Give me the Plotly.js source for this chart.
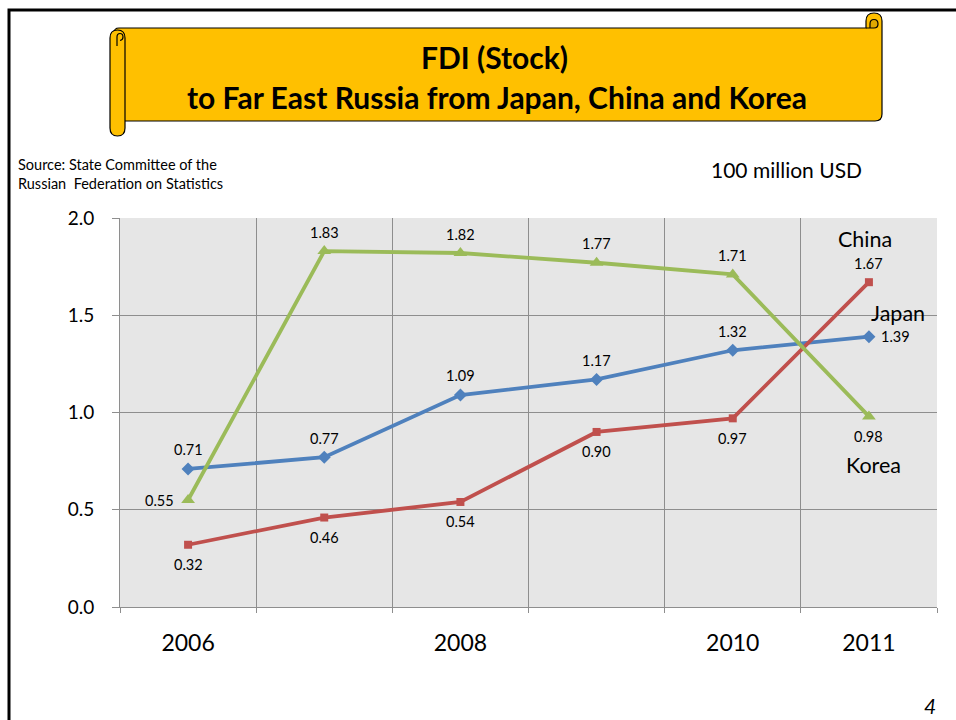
<!DOCTYPE html>
<html>
<head>
<meta charset="utf-8">
<script src="https://cdn.plot.ly/plotly-3.0.1.min.js"></script>
<style>html,body{margin:0;padding:0;background:#fff;}#chart{width:956px;height:720px;}</style>
</head>
<body>
<div id="chart"></div>
<script>
// ---- data ----
const years = ["2006", "2007", "2008", "2009", "2010", "2011"];
const tickLabels = ["2006", "", "2008", "", "2010", "2011"];
const seriesNames = ["Japan", "China", "Korea"];
const japan = [0.71, 0.77, 1.09, 1.17, 1.32, 1.39];
const china = [0.32, 0.46, 0.54, 0.90, 0.97, 1.67];
const korea = [0.55, 1.83, 1.82, 1.77, 1.71, 0.98];
const titleLines = ["FDI (Stock)", "to Far East Russia from Japan, China and Korea"];
const sourceText = "Source: State Committee of the<br>Russian  Federation on Statistics";
const unitText = "100 million USD";
const pageNumber = "4";

// ---- geometry helpers (pixel -> paper) ----
const PL = 120, PR = 937, PT = 218, PB = 607;
const fx = px => (px - PL) / (PR - PL);
const fy = py => (PB - py) / (PB - PT);
const pth = s => s.replace(/(-?[\d.]+),(-?[\d.]+)/g, (m, a, b) => fx(+a) + "," + fy(+b));

const FONT = "Lato, 'Open Sans', 'Noto Sans', sans-serif";
const xIdx = years.map((_, i) => i);

function series(name, y, color, symbol, size) {
  return {
    type: "scatter", mode: "lines+markers", name: name,
    x: xIdx, y: y,
    line: {color: color, width: 3.8},
    marker: {color: color, symbol: symbol, size: size},
    cliponaxis: false, hoverinfo: "skip"
  };
}

const traces = [
  series(seriesNames[0], japan, "#4F81BD", "diamond", 10),
  series(seriesNames[1], china, "#C0504D", "square", 8),
  series(seriesNames[2], korea, "#9BBB59", "triangle-up", 12)
];

// data label placement styles (per point): "t" above, "b" below, "r" right, "l" left
const japanPos = ["t", "t", "t", "t", "t", "r"];
const chinaPos = ["b", "b", "b", "b", "b", "t"];
const koreaPos = ["l", "t", "t", "t", "t", "b"];

function labelAnns(y, pos) {
  return y.map((v, i) => {
    const p = pos[i];
    const a = {xref: "x", yref: "y", x: xIdx[i], y: v, text: v.toFixed(2), showarrow: false,
               font: {family: FONT, size: 14.5, color: "#000"}, xanchor: "center", yanchor: "middle"};
    if (p === "t") a.yshift = 19;
    if (p === "b") a.yshift = -20;
    if (p === "r") { a.xanchor = "left"; a.xshift = 10; }
    if (p === "l") { a.xanchor = "right"; a.xshift = -12; }
    return a;
  });
}

const yellow = "#FFC000";
const shapes = [
  // slide border
  {type: "path", xref: "paper", yref: "paper", path: pth("M 9,722 L 9,10 L 958,10"),
   line: {color: "#000", width: 3}},
  // banner body with right roll
  {type: "path", xref: "paper", yref: "paper", fillcolor: yellow, line: {color: "#000", width: 1.2},
   path: pth("M 114,33 Q 114,28 119,28 L 866,28 L 866,21 Q 866,13 874,13 Q 882,13 882,21 L 882,114 Q 882,121 875,121 L 118,121 Z")},
  // right roll curl
  {type: "path", xref: "paper", yref: "paper", fillcolor: "#E0A800", line: {color: "#000", width: 1.2},
   path: pth("M 866,28 L 874,28 Q 878,28 878,24 Q 878,19.5 874,19.5 Q 870,19.5 870,24 L 870,28")},
  // left roll
  {type: "path", xref: "paper", yref: "paper", fillcolor: yellow, line: {color: "#000", width: 1.2},
   path: pth("M 110,38 Q 110,30 117.5,30 Q 125,30 125,38 L 125,128 Q 125,136 117.5,136 Q 110,136 110,128 Z")},
  // left roll curl
  {type: "path", xref: "paper", yref: "paper", line: {color: "#000", width: 1.2},
   path: pth("M 117,46 L 117,37 Q 117,33.5 120,33.5 Q 123,33.5 123,37 Q 123,40 120,40.5")}
];

const annotations = [
  {xref: "paper", yref: "paper", x: fx(494), y: fy(57), text: "<b>" + titleLines[0] + "</b>", showarrow: false,
   xanchor: "center", yanchor: "middle", font: {family: FONT, size: 30, color: "#000"}},
  {xref: "paper", yref: "paper", x: fx(497), y: fy(97), text: "<b>" + titleLines[1] + "</b>", showarrow: false,
   xanchor: "center", yanchor: "middle", font: {family: FONT, size: 30, color: "#000"}},
  {xref: "paper", yref: "paper", x: fx(16), y: fy(174), text: sourceText, showarrow: false, align: "left",
   xanchor: "left", yanchor: "middle", font: {family: FONT, size: 14.5, color: "#000"}},
  {xref: "paper", yref: "paper", x: fx(786), y: fy(170), text: unitText, showarrow: false,
   xanchor: "center", yanchor: "middle", font: {family: FONT, size: 21, color: "#000"}},
  {xref: "paper", yref: "paper", x: fx(930), y: fy(705), text: "<i>" + pageNumber + "</i>", showarrow: false,
   xanchor: "center", yanchor: "middle", font: {family: FONT, size: 21, color: "#000"}},
  {xref: "x", yref: "y", x: 4.97, y: 1.89, text: seriesNames[1], showarrow: false,
   xanchor: "center", yanchor: "middle", font: {family: FONT, size: 21.5, color: "#000"}},
  {xref: "x", yref: "y", x: 5.21, y: 1.51, text: seriesNames[0], showarrow: false,
   xanchor: "center", yanchor: "middle", font: {family: FONT, size: 21.5, color: "#000"}},
  {xref: "x", yref: "y", x: 5.03, y: 0.73, text: seriesNames[2], showarrow: false,
   xanchor: "center", yanchor: "middle", font: {family: FONT, size: 21.5, color: "#000"}}
].concat(labelAnns(japan, japanPos), labelAnns(china, chinaPos), labelAnns(korea, koreaPos));

const gridCol = "#8e8e8e";
const layout = {
  width: 956, height: 720,
  margin: {l: PL, r: 956 - PR, t: PT, b: 720 - PB, pad: 0},
  paper_bgcolor: "#ffffff", plot_bgcolor: "#e6e6e6",
  showlegend: false,
  font: {family: FONT, color: "#000"},
  xaxis: {
    range: [-0.5, 5.5], tickmode: "array", tickvals: xIdx, ticktext: tickLabels,
    showgrid: false, zeroline: false, showline: true, linecolor: gridCol, linewidth: 1,
    ticks: "", ticklabelstandoff: 15, tickfont: {family: FONT, size: 23, color: "#000"},
    minor: {tickmode: "linear", tick0: -0.5, dtick: 1, showgrid: true, gridcolor: gridCol, gridwidth: 1,
            ticks: "outside", ticklen: 5, tickcolor: gridCol},
    fixedrange: true
  },
  yaxis: {
    range: [0, 2], tickmode: "linear", tick0: 0, dtick: 0.5, tickformat: ".1f",
    showgrid: true, gridcolor: gridCol, gridwidth: 1, zeroline: false,
    showline: true, linecolor: gridCol, linewidth: 1,
    ticks: "outside", ticklen: 7, tickcolor: gridCol, ticklabelstandoff: 14,
    tickfont: {family: FONT, size: 19, color: "#000"}, fixedrange: true
  },
  shapes: shapes,
  annotations: annotations
};

Plotly.newPlot("chart", traces, layout, {staticPlot: true, displayModeBar: false});
</script>
</body>
</html>
